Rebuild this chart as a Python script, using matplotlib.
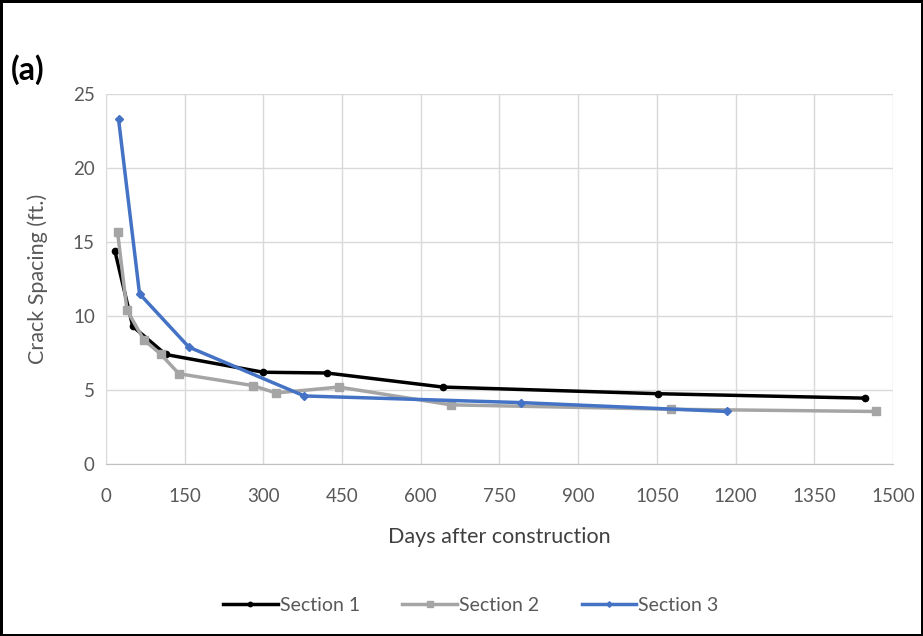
import matplotlib
matplotlib.use("Agg")
import matplotlib.pyplot as plt

s1_days = [17, 51, 114, 300, 421, 642, 1053, 1447]
s1_vals = [14.4, 9.3, 7.4, 6.2, 6.15, 5.2, 4.75, 4.45]
s2_days = [22, 40, 72, 105, 139, 280, 324, 444, 657, 1077, 1468]
s2_vals = [15.7, 10.4, 8.4, 7.4, 6.1, 5.3, 4.8, 5.2, 4.0, 3.7, 3.55]
s3_days = [24, 64, 158, 378, 791, 1184]
s3_vals = [23.3, 11.5, 7.9, 4.6, 4.15, 3.55]
x_ticks = list(range(0, 1501, 150))
y_ticks = [0, 5, 10, 15, 20, 25]

plt.rcParams['font.family'] = ['Lato', 'DejaVu Sans']

fig = plt.figure(figsize=(9.23, 6.36), dpi=100, linewidth=2.5, edgecolor='black')
ax = fig.add_axes([0.1148, 0.2704, 0.9675 - 0.1148, 0.8522 - 0.2704])

ax.plot(s1_days, s1_vals, color='black', lw=2.5, marker='o', ms=4.5, label='Section 1', zorder=3)
ax.plot(s2_days, s2_vals, color='#a5a5a5', lw=2.5, marker='s', ms=6, label='Section 2', zorder=3)
ax.plot(s3_days, s3_vals, color='#4472c4', lw=2.5, marker='D', ms=4, label='Section 3', zorder=4)

ax.set_xlim(0, 1500)
ax.set_ylim(0, 25)
ax.set_xticks(x_ticks)
ax.set_yticks(y_ticks)
ax.grid(True, color='#d9d9d9', lw=1)
ax.set_axisbelow(True)
for s in ['top', 'right', 'left']:
    ax.spines[s].set_visible(False)
ax.spines['bottom'].set_color('#bfbfbf')
ax.tick_params(length=0, labelsize=13.5, colors='#595959')
ax.tick_params(axis='x', pad=17)
ax.tick_params(axis='y', pad=8)

ax.set_xlabel('Days after construction', fontsize=15.5, color='#404040', labelpad=16)
ax.set_ylabel('Crack Spacing (ft.)', fontsize=15.5, color='#595959', labelpad=18)

fig.text(0.012, 0.874, '(a)', fontsize=23, fontweight='bold', color='black', va='baseline')

leg = fig.legend(loc='center', bbox_to_anchor=(0.51, 0.048), ncol=3, frameon=False,
                 fontsize=14, handlelength=2.8, columnspacing=2.2, handletextpad=0.1,
                 markerscale=0.7)
for t in leg.get_texts():
    t.set_color('#595959')

fig.savefig('out.png', dpi=100, edgecolor=fig.get_edgecolor())
